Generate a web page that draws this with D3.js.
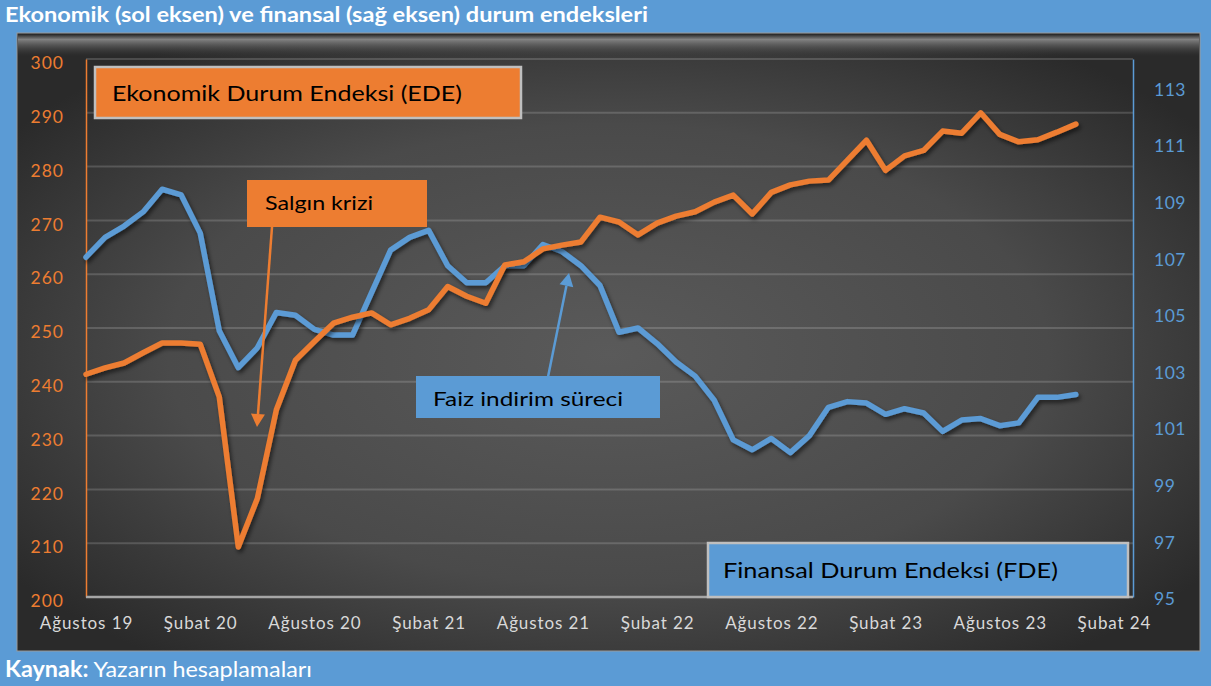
<!DOCTYPE html>
<html><head><meta charset="utf-8">
<script src="https://cdn.jsdelivr.net/npm/d3@7"></script>
<style>html,body{margin:0;padding:0;background:#5B9BD5;overflow:hidden}</style>
</head><body><svg id="c" width="1211" height="686"></svg>
<script>
// ---- data ----
const months = d3.range(53); // Aug 2019 .. Dec 2023, monthly index
const ede = [241.4,242.6,243.5,245.4,247.2,247.2,247.0,237.2,209.3,218.3,234.8,244.0,247.5,250.9,252.0,252.8,250.6,251.8,253.4,257.7,255.9,254.6,261.7,262.3,264.7,265.4,266.0,270.6,269.7,267.3,269.5,270.8,271.6,273.4,274.7,271.2,275.2,276.6,277.3,277.5,281.2,284.9,279.3,282.0,283.0,286.6,286.2,290.0,286.0,284.6,285.0,286.4,287.9];
const fde = [107.0,107.7,108.1,108.6,109.4,109.2,107.85,104.4,103.1,103.8,105.05,104.95,104.45,104.25,104.25,105.75,107.25,107.7,107.95,106.7,106.1,106.1,106.7,106.7,107.45,107.2,106.7,106.0,104.35,104.5,103.95,103.3,102.8,101.95,100.55,100.2,100.6,100.1,100.7,101.7,101.9,101.85,101.45,101.65,101.5,100.85,101.25,101.3,101.05,101.15,102.05,102.05,102.15];
const xTickMonths = [0,6,12,18,24,30,36,42,48,54];
const xTickLabels = ["Ağustos 19","Şubat 20","Ağustos 20","Şubat 21","Ağustos 21","Şubat 22","Ağustos 22","Şubat 23","Ağustos 23","Şubat 24"];
const leftTicks = [200,210,220,230,240,250,260,270,280,290,300];
const rightTicks = [95,97,99,101,103,105,107,109,111,113];
const title = "Ekonomik (sol eksen) ve finansal (sağ eksen) durum endeksleri";

const ORANGE = "#ED7D31", BLUE = "#5B9BD5";
const FONT = "Lato, 'Open Sans', sans-serif";
const svg = d3.select("#c");
const defs = svg.append("defs");

const rg = defs.append("radialGradient").attr("id","pg").attr("cx","50%").attr("cy","52%").attr("r","62%");
rg.append("stop").attr("offset","0%").attr("stop-color","#5a5a5a");
rg.append("stop").attr("offset","60%").attr("stop-color","#4a4a4a");
rg.append("stop").attr("offset","100%").attr("stop-color","#2a2a2a");
const tg = defs.append("linearGradient").attr("id","tg").attr("x1",0).attr("y1",0).attr("x2",0).attr("y2",1);
tg.append("stop").attr("offset","0%").attr("stop-color","#222").attr("stop-opacity",0.9);
tg.append("stop").attr("offset","25%").attr("stop-color","#8a8a8a").attr("stop-opacity",0.9);
tg.append("stop").attr("offset","100%").attr("stop-color","#444").attr("stop-opacity",0);
const f = defs.append("filter").attr("id","sh").attr("x","-5%").attr("y","-5%").attr("width","110%").attr("height","110%");
f.append("feDropShadow").attr("dx",2).attr("dy",3).attr("stdDeviation",2).attr("flood-color","#000").attr("flood-opacity",0.55);

// background
svg.append("rect").attr("width",1211).attr("height",686).attr("fill",BLUE);
svg.append("text").attr("x",5).attr("y",22).attr("fill","#fff").attr("font-family",FONT)
  .attr("font-weight","bold").attr("font-size",20).attr("textLength",643).attr("lengthAdjust","spacingAndGlyphs").text(title);

// panel
svg.append("rect").attr("x",17).attr("y",33).attr("width",1183).attr("height",618).attr("fill","url(#pg)").attr("stroke","#9a9a9a").attr("stroke-width",1);
svg.append("rect").attr("x",18).attr("y",34).attr("width",1181).attr("height",22).attr("fill","url(#tg)");

// scales
const x = d3.scaleLinear().domain([0,55]).range([86,1133]);
const yL = d3.scaleLinear().domain([200,300]).range([597,59]);
const yR = d3.scaleLinear().domain([95,114]).range([597,59]);

// gridlines
svg.append("g").selectAll("line").data(leftTicks.slice(1)).join("line")
  .attr("x1",86).attr("x2",1133).attr("y1",d=>yL(d)).attr("y2",d=>yL(d))
  .attr("stroke","#fff").attr("stroke-opacity",0.16).attr("stroke-width",2);

// axes
const axL = svg.append("g").attr("transform","translate(86,0)").call(d3.axisLeft(yL).tickValues(leftTicks).tickSize(0).tickPadding(22));
axL.select(".domain").attr("stroke",ORANGE).attr("stroke-width",1.5);
axL.selectAll("text").attr("fill",ORANGE).attr("font-family",FONT).attr("font-size",17.5).attr("letter-spacing","1px").attr("dy","0.55em");
const axR = svg.append("g").attr("transform","translate(1133,0)").call(d3.axisRight(yR).tickValues(rightTicks).tickSize(0).tickPadding(21));
axR.select(".domain").attr("stroke",BLUE).attr("stroke-width",1.5);
axR.selectAll("text").attr("fill",BLUE).attr("font-family",FONT).attr("font-size",17.5).attr("letter-spacing","0.5px").attr("dy","0.45em");
const axB = svg.append("g").attr("transform","translate(0,597)").call(d3.axisBottom(x).tickValues(xTickMonths).tickFormat((d,i)=>xTickLabels[i]).tickSize(0).tickPadding(20));
axB.select(".domain").attr("stroke","#a6a6a6").attr("stroke-width",2.5);
axB.selectAll("text").attr("fill","#d9d9d9").attr("font-family",FONT).attr("font-size",17).attr("letter-spacing","0.9px");
axB.select(".domain").attr("d","M86,0H1133");

// series
const lineL = d3.line().x((d,i)=>x(months[i])).y(d=>yL(d));
const lineR = d3.line().x((d,i)=>x(months[i])).y(d=>yR(d));
svg.append("path").datum(fde).attr("d",lineR).attr("fill","none").attr("stroke",BLUE).attr("stroke-width",5.5).attr("stroke-linejoin","round").attr("stroke-linecap","round").attr("filter","url(#sh)");
svg.append("path").datum(ede).attr("d",lineL).attr("fill","none").attr("stroke",ORANGE).attr("stroke-width",5.5).attr("stroke-linejoin","round").attr("stroke-linecap","round").attr("filter","url(#sh)");

// annotation boxes
function box(x0,y0,w,h,fill,border,label,tx,ty,fs,tl){
  svg.append("rect").attr("x",x0).attr("y",y0).attr("width",w).attr("height",h).attr("fill",fill)
    .attr("stroke",border||"none").attr("stroke-width",border?2.5:0);
  const t = svg.append("text").attr("x",tx).attr("y",ty).attr("fill","#000").attr("font-family",FONT).attr("font-size",fs).text(label);
  if (tl) t.attr("textLength",tl).attr("lengthAdjust","spacingAndGlyphs");
}
box(95,67,426,51,ORANGE,"#bfbfbf","Ekonomik Durum Endeksi (EDE)",112,101,22,350);
box(247,180,180,47,ORANGE,null,"Salgın krizi",265,210,20,108);
box(416,376,244,42,BLUE,null,"Faiz indirim süreci",433,406,20,190);
box(708,543,420,54,BLUE,"#bfbfbf","Finansal Durum Endeksi (FDE)",723,578,22,335);

function arrow(x1,y1,x2,y2,color){
  const ang = Math.atan2(y2-y1,x2-x1), L=13, W=7;
  const bx = x2 - L*Math.cos(ang), by = y2 - L*Math.sin(ang);
  svg.append("line").attr("x1",x1).attr("y1",y1).attr("x2",bx).attr("y2",by).attr("stroke",color).attr("stroke-width",2.5);
  const px = -Math.sin(ang)*W, py = Math.cos(ang)*W;
  svg.append("path").attr("d",`M${x2},${y2}L${bx+px},${by+py}L${bx-px},${by-py}Z`).attr("fill",color);
}
arrow(272,227,257,427,ORANGE);
arrow(548,377,569,273,BLUE);

// source
const src = svg.append("text").attr("x",5).attr("y",677).attr("fill","#fff").attr("font-family",FONT).attr("font-size",22)
  .attr("textLength",307).attr("lengthAdjust","spacingAndGlyphs");
src.append("tspan").attr("font-weight","bold").text("Kaynak:");
src.append("tspan").text(" Yazarın hesaplamaları");
</script></body></html>
